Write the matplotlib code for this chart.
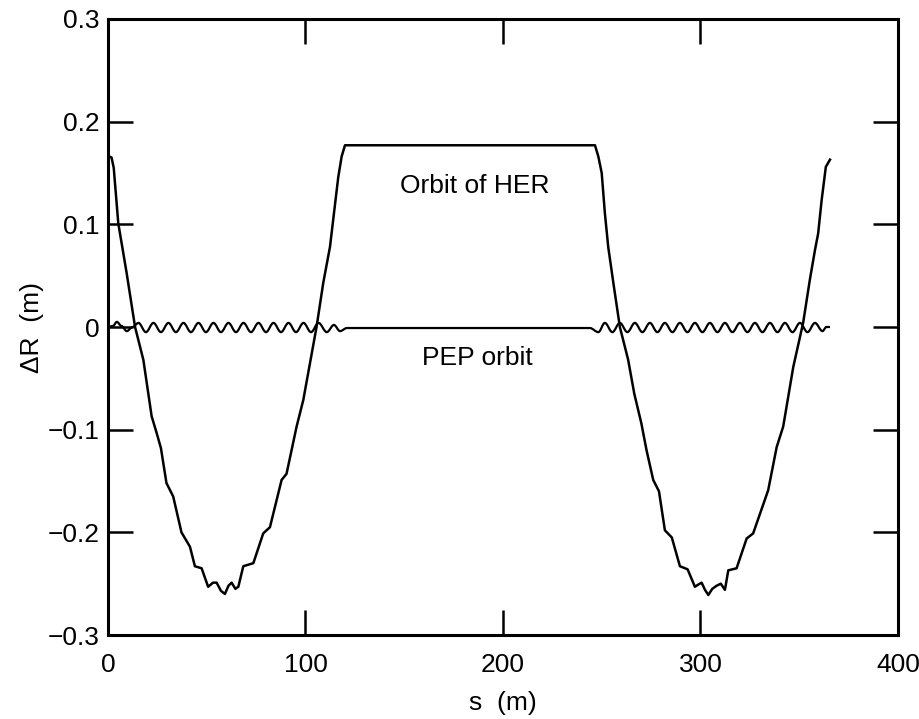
import numpy as np
import matplotlib
matplotlib.use('Agg')
import matplotlib.pyplot as plt
from matplotlib.path import Path
from matplotlib.patches import PathPatch

#----------------------------------------------------------------#
#   Dati: orbita di HER e orbita di PEP       #
#----------------------------------------------------------------#

# Orbita HER  (s [m], dR [m])
her_s  = [0.8, 1.8, 2.9, 5.2, 9.4, 13.7, 17.9, 22.1, 24.6, 26.8, 29.6, 33.0,
          37.2, 41.5, 44.0, 47.4, 50.7, 53.2, 55.0, 57.2, 59.2, 61.0, 62.6,
          64.5, 66.0, 68.5, 73.6, 78.6, 82.0, 87.9, 90.4, 95.5, 98.9, 105.6,
          109.0, 112.4, 114.0, 116.6, 118.3, 120.0, 246.6, 248.3, 250.0,
          251.6, 253.3, 255.9, 259.2, 263.4, 266.5, 270.1, 272.7, 276.1,
          279.0, 282.0, 285.5, 289.6, 293.5, 297.2, 298.8, 300.6, 302.3,
          304.0, 306.0, 308.2, 310.3, 312.4, 314.1, 318.3, 323.4, 326.7,
          334.3, 338.6, 341.9, 347.0, 352.0, 355.4, 358.0, 359.6, 361.4,
          363.5, 365.6]
her_dr = [0.166, 0.165, 0.155, 0.101, 0.053, 0.000, -0.032, -0.087, -0.103,
          -0.118, -0.152, -0.165, -0.200, -0.214, -0.233, -0.235, -0.253,
          -0.249, -0.249, -0.257, -0.260, -0.252, -0.249, -0.255, -0.253,
          -0.233, -0.230, -0.201, -0.195, -0.149, -0.143, -0.097, -0.071,
          0.000, 0.043, 0.078, 0.104, 0.146, 0.166, 0.177, 0.177, 0.166,
          0.150, 0.111, 0.078, 0.043, 0.000, -0.032, -0.065, -0.094, -0.120,
          -0.149, -0.160, -0.198, -0.205, -0.233, -0.236, -0.253, -0.251,
          -0.249, -0.256, -0.261, -0.255, -0.252, -0.250, -0.256, -0.237,
          -0.235, -0.206, -0.201, -0.159, -0.117, -0.097, -0.039, 0.004,
          0.046, 0.075, 0.091, 0.124, 0.156, 0.163]

# Orbita PEP  (s [m], dR [m]) - massimi e minimi dell'oscillazione
pep_s  = [0.0, 2.5, 4.5, 6.8, 9.5, 12.5, 15.4, 19.2, 23.0, 26.8, 30.6, 34.4,
          38.2, 42.0, 45.8, 49.6, 53.4, 57.2, 61.0, 64.8, 68.6, 72.4, 76.2,
          80.0, 83.8, 87.6, 91.4, 95.2, 99.0, 102.8, 106.6, 110.8, 114.4,
          117.5, 121.0, 244.0, 248.3, 251.6, 255.4, 259.2, 263.0, 266.8,
          270.6, 274.4, 278.2, 282.0, 285.8, 289.6, 293.4, 297.2, 301.0,
          304.8, 308.6, 312.4, 316.2, 320.0, 323.8, 327.6, 331.4, 335.2,
          339.0, 342.8, 346.6, 350.4, 354.2, 358.0, 361.8, 363.8, 365.6]
pep_dr = [0.000, 0.001, 0.005, 0.001, -0.004, 0.000, 0.004, -0.005, 0.004,
          -0.005, 0.004, -0.005, 0.004, -0.005, 0.004, -0.005, 0.004, -0.005,
          0.004, -0.005, 0.004, -0.005, 0.004, -0.005, 0.004, -0.005, 0.004,
          -0.005, 0.004, -0.005, 0.004, -0.005, 0.002, -0.004, -0.001,
          -0.001, -0.005, 0.004, -0.005, 0.004, -0.005, 0.004, -0.005, 0.004,
          -0.005, 0.004, -0.005, 0.004, -0.005, 0.004, -0.005, 0.004, -0.005,
          0.004, -0.005, 0.004, -0.005, 0.004, -0.005, 0.004, -0.005, 0.004,
          -0.005, 0.004, -0.005, 0.004, -0.004, 0.000, 0.000]

# Tick
xticks       = [0, 100, 200, 300, 400]
yticks       = [-0.3, -0.2, -0.1, 0.0, 0.1, 0.2, 0.3]
ytick_labels = ['\u22120.3', '\u22120.2', '\u22120.1', '0', '0.1', '0.2', '0.3']


def curva_liscia(s, y):
    """
    Path con tratti di Bezier tra massimi e minimi successivi
    (tangente orizzontale in ogni estremo)
    """
    verts = [(s[0], y[0])]
    codes = [Path.MOVETO]
    for i in range(1, len(s)):
        d = 0.36 * (s[i] - s[i-1])
        verts += [(s[i-1] + d, y[i-1]), (s[i] - d, y[i]), (s[i], y[i])]
        codes += [Path.CURVE4] * 3
    return Path(verts, codes)


def grafico_orbite():

    plt.rcParams['font.family'] = ['Liberation Sans', 'DejaVu Sans']

    fig = plt.figure(figsize=(9.2, 7.19), dpi=100)
    ax = fig.add_axes([0.1174, 0.1168, 0.8586, 0.8568])

    ax.plot(her_s, her_dr, color='black', lw=1.8, solid_joinstyle='round')
    ax.add_patch(PathPatch(curva_liscia(pep_s, pep_dr), facecolor='none',
                           edgecolor='black', lw=1.6))

    ax.text(148, 0.137, 'Orbit of HER', fontsize=19, va='center', ha='left')
    ax.text(159, -0.030, 'PEP orbit', fontsize=19, va='center', ha='left')

    ax.set_xlim(0, 400)
    ax.set_ylim(-0.3, 0.3)
    ax.set_xticks(xticks)
    ax.set_yticks(yticks, labels=ytick_labels)

    ax.tick_params(direction='in', length=18, width=1.8, labelsize=19,
                   top=True, right=True)
    ax.tick_params(axis='x', pad=13)
    ax.tick_params(axis='y', pad=6)
    for sp in ax.spines.values():
        sp.set_linewidth(2.2)

    ax.set_xlabel('s  (m)', fontsize=19, labelpad=10)
    ax.set_ylabel('\u0394R  (m)', fontsize=19, labelpad=3)

    fig.savefig('out.png', dpi=100)


if __name__ == "__main__":

    grafico_orbite()
